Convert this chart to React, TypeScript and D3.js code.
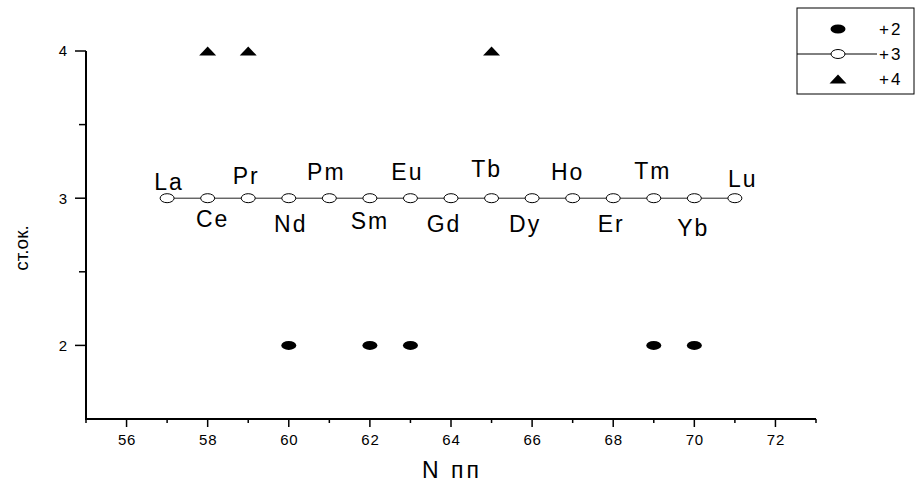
import React from "react";
import * as d3 from "d3";

// Oxidation states of the lanthanides versus atomic number
const elements = ["La", "Ce", "Pr", "Nd", "Pm", "Sm", "Eu", "Gd", "Tb", "Dy", "Ho", "Er", "Tm", "Yb", "Lu"];
const atomicNumbers = [57, 58, 59, 60, 61, 62, 63, 64, 65, 66, 67, 68, 69, 70, 71];
const state3 = [3, 3, 3, 3, 3, 3, 3, 3, 3, 3, 3, 3, 3, 3, 3];
const state2Numbers = [60, 62, 63, 69, 70];
const state2Values = [2, 2, 2, 2, 2];
const state4Numbers = [58, 59, 65];
const state4Values = [4, 4, 4];
const xMajorTicks = [56, 58, 60, 62, 64, 66, 68, 70, 72];
const yMajorTicks = [2, 3, 4];
const legendLabels = ["+2", "+3", "+4"];

// label placement around each +3 point: [dx, dy] in px
const labelOffsets: [number, number][] = [
  [1, -8], [4, 29], [-3, -14], [1, 34], [-4, -18], [-1, 31], [-4, -18], [-8, 34],
  [-6, -21], [-8, 34], [-6, -18], [-3, 34], [-2, -19], [-2, 38], [7, -11],
];

const W = 917;
const H = 486;
const FONT = "Arial, 'Liberation Sans', sans-serif";

export default function App() {
  const x = d3.scaleLinear().domain([55, 73]).range([86, 816]);
  const y = d3.scaleLinear().domain([1.5, 4]).range([419, 51]);
  const x0 = x(55);
  const y0 = y(1.5);

  const xMinor = d3.range(55, 74, 2);
  const yMinor = [2.5, 3.5];

  const line = d3
    .line<number>()
    .x((_, i) => x(atomicNumbers[i]))
    .y((d) => y(d));

  const triPath = (cx: number, cy: number, w = 17, h = 9) =>
    `M${cx - w / 2},${cy + h / 2}L${cx + w / 2},${cy + h / 2}L${cx},${cy - h / 2}Z`;

  const legendX = 797;
  const legendY = 8;
  const legendRows = [29, 54, 79];

  return (
    <svg
      width={W}
      height={H}
      style={{ position: "absolute", left: 0, top: 0, background: "#fff" }}
      fontFamily={FONT}
    >
      <rect width={W} height={H} fill="#fff" />

      {/* axes */}
      <line x1={x0} y1={y(4)} x2={x0} y2={y0} stroke="#000" strokeWidth={2} />
      <line x1={x0 - 1} y1={y0} x2={x(73)} y2={y0} stroke="#000" strokeWidth={2} />

      {yMajorTicks.map((t) => (
        <g key={"ym" + t}>
          <line x1={x0 - 11} x2={x0} y1={y(t)} y2={y(t)} stroke="#000" strokeWidth={1.5} />
          <text x={x0 - 19} y={y(t)} dy="0.36em" textAnchor="end" fontSize={15}>
            {t}
          </text>
        </g>
      ))}
      {yMinor.map((t) => (
        <line key={"yn" + t} x1={x0 - 7} x2={x0} y1={y(t)} y2={y(t)} stroke="#000" strokeWidth={1.5} />
      ))}

      {xMajorTicks.map((t) => (
        <g key={"xm" + t}>
          <line x1={x(t)} x2={x(t)} y1={y0} y2={y0 + 8} stroke="#000" strokeWidth={1.5} />
          <text x={x(t) + 0.5} y={y0 + 26} textAnchor="middle" fontSize={15} letterSpacing={0.8}>
            {t}
          </text>
        </g>
      ))}
      {xMinor.map((t) => (
        <line key={"xn" + t} x1={x(t)} x2={x(t)} y1={y0} y2={y0 + 4} stroke="#000" strokeWidth={1.5} />
      ))}

      {/* axis titles */}
      <text x={452} y={478} textAnchor="middle" fontSize={23} letterSpacing={3}>
        N пп
      </text>
      <text
        transform={`translate(28,248) rotate(-90)`}
        textAnchor="middle"
        fontSize={19}
      >
        ст.ок.
      </text>

      {/* +3 series */}
      <path d={line(state3) ?? ""} fill="none" stroke="#222" strokeWidth={1} />
      {state3.map((v, i) => (
        <ellipse
          key={"s3" + i}
          cx={x(atomicNumbers[i])}
          cy={y(v)}
          rx={7}
          ry={4.5}
          fill="#fff"
          stroke="#000"
          strokeWidth={1}
        />
      ))}
      {elements.map((el, i) => (
        <text
          key={"lbl" + el}
          x={x(atomicNumbers[i]) + labelOffsets[i][0] + 1}
          y={y(state3[i]) + labelOffsets[i][1]}
          textAnchor="middle"
          fontSize={23}
          letterSpacing={2}
        >
          {el}
        </text>
      ))}

      {/* +2 series */}
      {state2Values.map((v, i) => (
        <ellipse key={"s2" + i} cx={x(state2Numbers[i])} cy={y(v)} rx={7.5} ry={4.5} fill="#000" />
      ))}

      {/* +4 series */}
      {state4Values.map((v, i) => (
        <path key={"s4" + i} d={triPath(x(state4Numbers[i]), y(v))} fill="#000" />
      ))}

      {/* legend */}
      <rect x={legendX} y={legendY} width={117} height={86} fill="#fff" stroke="#000" strokeWidth={1} />
      <ellipse cx={838} cy={legendRows[0]} rx={7.5} ry={4.5} fill="#000" />
      <line x1={legendX} x2={877} y1={legendRows[1]} y2={legendRows[1]} stroke="#000" strokeWidth={1} />
      <ellipse cx={838} cy={legendRows[1]} rx={7} ry={4.5} fill="#fff" stroke="#000" strokeWidth={1} />
      <path d={triPath(838, legendRows[2])} fill="#000" />
      {legendLabels.map((l, i) => (
        <text key={l} x={879} y={legendRows[i]} dy="0.36em" fontSize={17} letterSpacing={2}>
          {l}
        </text>
      ))}
    </svg>
  );
}
